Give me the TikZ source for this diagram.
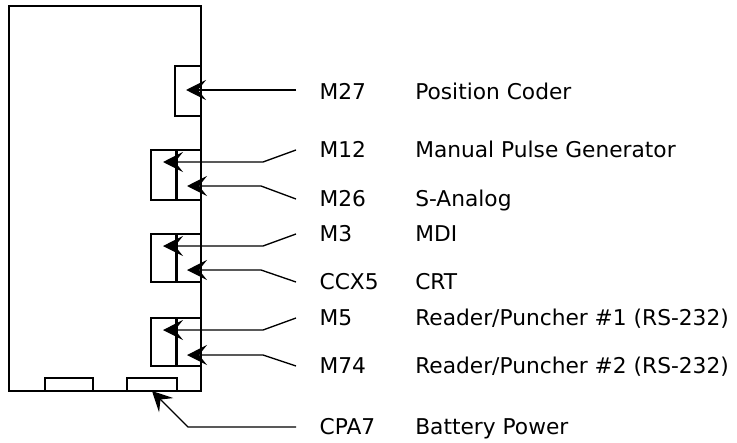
\documentclass[tikz,border=0pt]{standalone}
\usepackage{fontspec}
\setmainfont{DejaVu Sans}
\usepackage{tikz}
\usetikzlibrary{positioning,arrows.meta}

\tikzset{
  board/.style={line width=1.5pt},
  tip/.tip={Stealth[length=15pt,width=15pt,inset=6pt]},
  wire/.style={line width=1pt,-tip},
  plug/.style={line width=2.25pt},
  lbl/.style={inner sep=0pt,text height=11.9pt,text depth=0pt,anchor=west}
}

\begin{document}
\begin{tikzpicture}[font=\fontsize{16.3pt}{19pt}\selectfont,x=0.75pt,y=-0.75pt]
  \useasboundingbox (0,0) rectangle (737,442);
  % board with connector sockets
  \draw[board] (9,6) rectangle (201,391);
  \draw[board] (175,66) rectangle (201,116);
  \foreach \t/\b in {150/200, 234/282, 318/366} {
    \draw[board] (151,\t) rectangle (201,\b);
    \draw[plug] (176,\t) -- (176,\b);
  }
  \draw[board] (45,378) rectangle (93,391);
  \draw[board] (127,378) rectangle (177,391);
  % labels
  \foreach \n/\y/\code/\txt in {27/92/M27/Position Coder, 12/150/M12/Manual Pulse Generator,
      26/199/M26/S-Analog, 3/234/M3/MDI, 5x/282/CCX5/CRT,
      5/318/M5/{Reader/Puncher \#1 (RS-232)}, 74/366/M74/{Reader/Puncher \#2 (RS-232)},
      7/427/CPA7/Battery Power} {
    \coordinate (e\n) at (296,\y);
    \node[lbl,right=17.5pt of e\n] (c\n) {\code};
    \node[lbl] (d\n) at (415,\y) {\txt};
  }
  % arrow tips inside the sockets
  \coordinate (t27) at (186,90);
  \coordinate (t12) at (163,162);
  \coordinate (t26) at (187,186);
  \coordinate (t3) at (163,246);
  \coordinate (t5x) at (187,270);
  \coordinate (t5) at (163,330);
  \coordinate (t74) at (187,355);
  \coordinate (t7) at (152,391);
  % connectors
  \draw[wire] (e27) ++(0,-2) -- (t27);
  \draw[wire] (e12) -- ++(-33,12) -- (t12);
  \draw[wire] (e26) -- ++(-35,-13) -- (t26);
  \draw[wire] (e3) -- ++(-33,12) -- (t3);
  \draw[wire] (e5x) -- ++(-35,-12) -- (t5x);
  \draw[wire] (e5) -- ++(-33,12) -- (t5);
  \draw[wire] (e74) -- ++(-33,-11) -- (t74);
  \draw[wire] (e7) -- ++(-108,0) -- (t7);
\end{tikzpicture}
\end{document}
